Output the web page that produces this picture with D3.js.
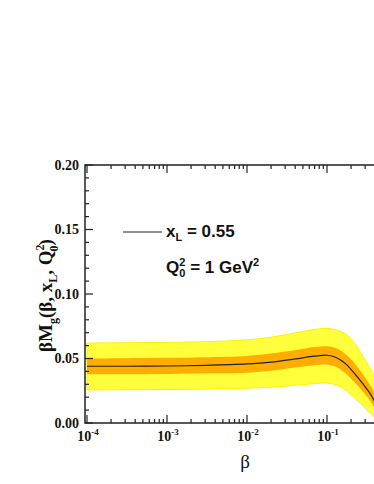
<!DOCTYPE html>
<html><head><meta charset="utf-8">
<script src="https://cdn.jsdelivr.net/npm/d3@7"></script>
<style>body{margin:0;background:#fff}svg{display:block}</style>
</head><body>
<script>
const beta    = [1e-4,   3e-4,   1e-3,   3e-3,   1e-2,   2e-2,   4e-2,   7e-2,   0.1,    0.13,   0.17,   0.22,   0.28,   0.34,   0.4];
const central = [0.0440, 0.0440, 0.0442, 0.0447, 0.0458, 0.0472, 0.0497, 0.0518, 0.0525, 0.0508, 0.0460, 0.0385, 0.0305, 0.0235, 0.0160];
const outerHi = [0.0620, 0.0622, 0.0625, 0.0630, 0.0645, 0.0665, 0.0698, 0.0725, 0.0733, 0.0722, 0.0690, 0.0620, 0.0520, 0.0430, 0.0365];
const outerLo = [0.0256, 0.0258, 0.0260, 0.0263, 0.0270, 0.0278, 0.0292, 0.0305, 0.0310, 0.0295, 0.0255, 0.0195, 0.0135, 0.0080, 0.0040];
const innerHi = [0.0500, 0.0502, 0.0505, 0.0510, 0.0520, 0.0538, 0.0565, 0.0590, 0.0595, 0.0580, 0.0535, 0.0465, 0.0380, 0.0300, 0.0230];
const innerLo = [0.0377, 0.0378, 0.0380, 0.0385, 0.0390, 0.0405, 0.0430, 0.0448, 0.0452, 0.0435, 0.0385, 0.0315, 0.0245, 0.0180, 0.0110];
const xTickExps = [-4, -3, -2, -1];
const yTicks = [0.00, 0.05, 0.10, 0.15, 0.20];

(function () {
const W = 374, H = 484;
const svg = d3.select("body").append("svg").attr("width", W).attr("height", H);

const pL = 85, pT = 165, pB = 423;
const x = d3.scaleLog().domain([1e-4, 1]).range([87, 87 + 80 * 4]);
const y = d3.scaleLinear().domain([0, 0.2]).range([pB, pT]);

const idx = d3.range(beta.length);
const curve = d3.curveCatmullRom.alpha(0.5);
const area = (lo, hi) => d3.area().curve(curve)
  .x(i => x(beta[i])).y0(i => y(lo[i])).y1(i => y(hi[i]));

svg.append("defs").append("clipPath").attr("id", "c")
  .append("rect").attr("x", pL).attr("y", pT).attr("width", 400).attr("height", pB - pT);
const g = svg.append("g").attr("clip-path", "url(#c)");
g.append("path").datum(idx).attr("d", area(outerLo, outerHi))
  .attr("fill", "#ffff3c").attr("stroke", "#fff000").attr("stroke-width", 1);
g.append("path").datum(idx).attr("d", area(innerLo, innerHi))
  .attr("fill", "#ffae00");
g.append("path").datum(idx)
  .attr("d", d3.line().curve(curve).x(i => x(beta[i])).y(i => y(central[i])))
  .attr("fill", "none").attr("stroke", "#222").attr("stroke-width", 1.2);

const axCol = "#222";
svg.append("path").attr("d", `M390,${pT}H${pL}V${pB}H390`)
  .attr("fill", "none").attr("stroke", axCol).attr("stroke-width", 1.5);

const xt = [];
for (let e = -4; e <= 0; e++) for (let m = 1; m <= 9; m++) {
  const v = m * Math.pow(10, e);
  if (x(v) >= pL && x(v) <= W) xt.push({v, major: m === 1});
}
xt.forEach(t => {
  const len = t.major ? 8 : 4;
  svg.append("line").attr("x1", x(t.v)).attr("x2", x(t.v)).attr("y1", pB).attr("y2", pB - len)
    .attr("stroke", axCol).attr("stroke-width", 1.2);
  svg.append("line").attr("x1", x(t.v)).attr("x2", x(t.v)).attr("y1", pT).attr("y2", pT + len)
    .attr("stroke", axCol).attr("stroke-width", 1.2);
});
d3.range(0, 21).forEach(i => {
  const v = i * 0.01, major = i % 5 === 0;
  svg.append("line").attr("x1", pL).attr("x2", pL + (major ? 8 : 4))
    .attr("y1", y(v)).attr("y2", y(v)).attr("stroke", axCol).attr("stroke-width", 1.2);
});

const serif = "'Liberation Serif', 'Times New Roman', serif";
yTicks.forEach(v => {
  svg.append("text").attr("x", 79).attr("y", y(v) + 4.5).attr("text-anchor", "end")
    .attr("font-family", serif).attr("font-weight", "bold").attr("font-size", 14).attr("fill", "#111")
    .text(v.toFixed(2));
});
xTickExps.forEach(e => {
  const t = svg.append("text").attr("x", x(Math.pow(10, e)) + 1).attr("y", 441).attr("text-anchor", "middle")
    .attr("font-family", serif).attr("font-weight", "bold").attr("font-size", 14).attr("fill", "#111");
  t.append("tspan").text("10");
  t.append("tspan").attr("dy", -6).attr("font-size", 9).text(String(e));
});

svg.append("text").attr("x", 245).attr("y", 468).attr("text-anchor", "middle")
  .attr("font-family", serif).attr("font-size", 19).attr("fill", "#111").text("β");

const yl = svg.append("text").attr("transform", "translate(52,352) rotate(-90)").attr("text-anchor", "start")
  .attr("font-family", serif).attr("font-weight", "bold").attr("font-size", 19).attr("fill", "#111");
yl.append("tspan").text("βM");
yl.append("tspan").attr("dy", 5).attr("font-size", 12).text("g");
yl.append("tspan").attr("dy", -5).text("(β, x");
yl.append("tspan").attr("dy", 5).attr("font-size", 12).text("L");
yl.append("tspan").attr("dy", -5).text(", Q");
yl.append("tspan").attr("dy", -8).attr("font-size", 12).text("2");
yl.append("tspan").attr("dx", -7).attr("dy", 14).attr("font-size", 12).text("0");
yl.append("tspan").attr("dy", -6).text(")");

const sans = "'Liberation Sans', Arial, sans-serif";
svg.append("line").attr("x1", 123).attr("x2", 162).attr("y1", 232).attr("y2", 232)
  .attr("stroke", "#222").attr("stroke-width", 1.2);
const l1 = svg.append("text").attr("x", 166).attr("y", 237)
  .attr("font-family", sans).attr("font-weight", "bold").attr("font-size", 17).attr("fill", "#111");
l1.append("tspan").text("x");
l1.append("tspan").attr("dy", 4).attr("font-size", 11).text("L");
l1.append("tspan").attr("dy", -4).text(" = 0.55");
const l2 = svg.append("text").attr("x", 166).attr("y", 273)
  .attr("font-family", sans).attr("font-weight", "bold").attr("font-size", 17).attr("fill", "#111");
l2.append("tspan").text("Q");
l2.append("tspan").attr("dy", -7).attr("font-size", 11).text("2");
l2.append("tspan").attr("dx", -6).attr("dy", 11).attr("font-size", 11).text("0");
l2.append("tspan").attr("dy", -4).text(" = 1 GeV");
l2.append("tspan").attr("dy", -7).attr("font-size", 11).text("2");
})();
</script>
</body></html>
